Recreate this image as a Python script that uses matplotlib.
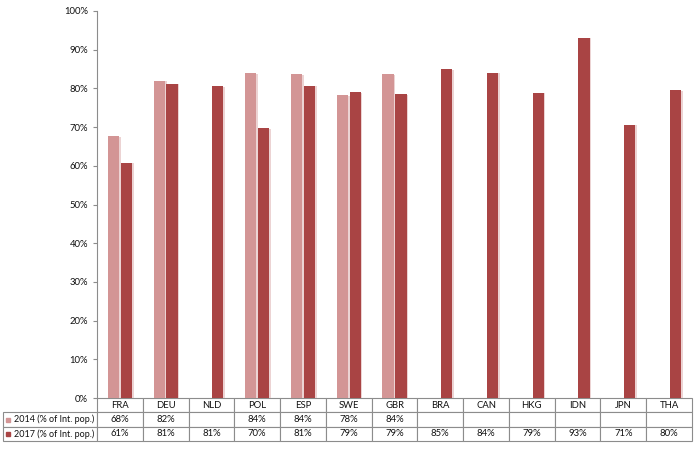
import matplotlib
matplotlib.use("Agg")
import matplotlib.pyplot as plt
import matplotlib.patheffects as pe
import numpy as np

plt.rcParams['font.family'] = ['Lato', 'DejaVu Sans']

countries = ['FRA', 'DEU', 'NLD', 'POL', 'ESP', 'SWE', 'GBR',
             'BRA', 'CAN', 'HKG', 'IDN', 'JPN', 'THA']
# None = no 2014 value
share_2014 = [67.6, 82.0, None, 83.9, 83.6, 78.2, 83.7,
              None, None, None, None, None, None]
share_2017 = [60.8, 81.2, 80.6, 69.8, 80.7, 79.1, 78.6,
              85.0, 84.1, 78.9, 93.1, 70.6, 79.6]
label_2014 = '2014 (% of Int. pop.)'
label_2017 = '2017 (% of Int. pop.)'
yticks = list(range(0, 101, 10))

c14 = '#D39595'
c17 = '#A94444'
edge = '#8C8C8C'
txt = '#111111'

W, H = 696, 449
fig = plt.figure(figsize=(W / 100, H / 100), dpi=100)
ax = fig.add_axes([97 / W, 1 - 398 / H, 595 / W, 387 / H])

x = np.arange(len(countries))
shadow = [pe.SimplePatchShadow(offset=(1.2, -0.5), shadow_rgbFace='#E8C8C8', alpha=0.8), pe.Normal()]
v14 = [np.nan if v is None else v for v in share_2014]
b1 = ax.bar(x - 0.14, v14, width=0.245, color=c14)
b2 = ax.bar(x + 0.14, share_2017, width=0.245, color=c17)
for b in list(b1) + list(b2):
    b.set_path_effects(shadow)

ax.set_xlim(-0.5, len(countries) - 0.5)
ax.set_ylim(0, 100)
ax.set_yticks(yticks)
ax.set_yticklabels([f'{t}%' for t in yticks])
ax.tick_params(axis='y', direction='out', length=3, width=0.8, color=edge,
               pad=3.5, labelsize=6.8, labelcolor=txt)
ax.set_xticks([])
for s in ['top', 'right', 'bottom']:
    ax.spines[s].set_visible(False)
ax.spines['left'].set_color(edge)
ax.spines['left'].set_linewidth(0.8)

# data table under the bars
fmt = lambda v: '' if v is None else f'{v:.0f}%'
rows = [[''] + countries,
        [label_2014] + [fmt(v) for v in share_2014],
        [label_2017] + [fmt(v) for v in share_2017]]
lab_w = 94 / 595
col_w = 1 / len(countries)
tab = ax.table(cellText=rows, colWidths=[lab_w] + [col_w] * len(countries),
               cellLoc='center', bbox=[-lab_w, -43 / 387, 1 + lab_w, 43 / 387])
tab.auto_set_font_size(False)
tab.set_fontsize(6.8)
for (r, c), cell in tab.get_celld().items():
    cell.set_edgecolor(edge)
    cell.set_linewidth(0.8)
    cell.get_text().set_color(txt)
    if c == 0:
        cell.get_text().set_ha('left')
        cell.get_text().set_fontsize(6.5)
        cell.PAD = 0.115
    if r == 0 and c == 0:
        cell.visible_edges = ''

# legend keys in the row label cells
ax.plot([(8 - 97) / 595], [-(21.5) / 387], marker='s', ms=3, color=c14,
        transform=ax.transAxes, clip_on=False, linestyle='none')
ax.plot([(8 - 97) / 595], [-(36) / 387], marker='s', ms=3, color=c17,
        transform=ax.transAxes, clip_on=False, linestyle='none')

fig.savefig('out.png', dpi=100)
